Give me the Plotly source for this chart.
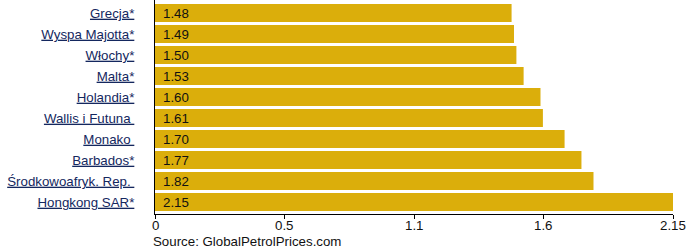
import plotly.graph_objects as go

countries = ["Grecja*", "Wyspa Majotta*", "Włochy*", "Malta*", "Holandia*",
             "Wallis i Futuna\u00a0", "Monako\u00a0", "Barbados*",
             "Środkowoafryk. Rep.\u00a0", "Hongkong SAR*"]
prices = [1.48, 1.49, 1.50, 1.53, 1.60, 1.61, 1.70, 1.77, 1.82, 2.15]
tick_vals = [0, 0.5375, 1.075, 1.6125, 2.15]
tick_text = ["0", "0.5", "1.1", "1.6", "2.15"]

bar_color = "#DBAE0B"
font_family = "Liberation Sans, Arial, sans-serif"
fs = 13.3

fig = go.Figure(go.Bar(
    x=prices,
    y=countries,
    orientation="h",
    marker=dict(color=bar_color, line=dict(width=0)),
    hoverinfo="skip",
))

for c, v in zip(countries, prices):
    fig.add_annotation(
        x=0, y=c, xref="x", yref="y", text=f"{v:.2f}", showarrow=False,
        xanchor="left", yanchor="middle", xshift=6,
        font=dict(color="#111111", size=fs, family=font_family),
    )

# x tick labels placed just under the tick marks
for tv, tt in zip(tick_vals, tick_text):
    fig.add_annotation(
        x=tv, y=0, xref="x", yref="paper", text=tt, showarrow=False,
        xanchor="center", yanchor="top", yshift=-2,
        font=dict(color="#111111", size=fs, family=font_family),
    )

fig.add_annotation(
    text="Source: GlobalPetrolPrices.com", xref="paper", yref="paper",
    x=0, y=0, xanchor="left", yanchor="top", yshift=-18, xshift=-4,
    showarrow=False, font=dict(size=fs, color="#111111", family=font_family),
)

fig.update_layout(
    width=689, height=252,
    margin=dict(l=155, r=16, t=0, b=38),
    paper_bgcolor="white", plot_bgcolor="white",
    bargap=0.14,
    showlegend=False,
    font=dict(family=font_family, size=fs, color="#111111"),
    xaxis=dict(
        range=[0, 2.15], tickvals=tick_vals, showticklabels=False,
        showgrid=False, zeroline=False, showline=True, linecolor="black",
        linewidth=1, ticks="outside", ticklen=4, tickcolor="black",
        fixedrange=True,
    ),
    yaxis=dict(
        range=[9.57, -0.62], showgrid=False, zeroline=False, showline=True,
        linecolor="black", linewidth=1, ticks="", ticklabelstandoff=17,
        tickfont=dict(size=fs, color="#14275E", lineposition="under"),
        fixedrange=True,
    ),
)

fig.write_html("out.html")
